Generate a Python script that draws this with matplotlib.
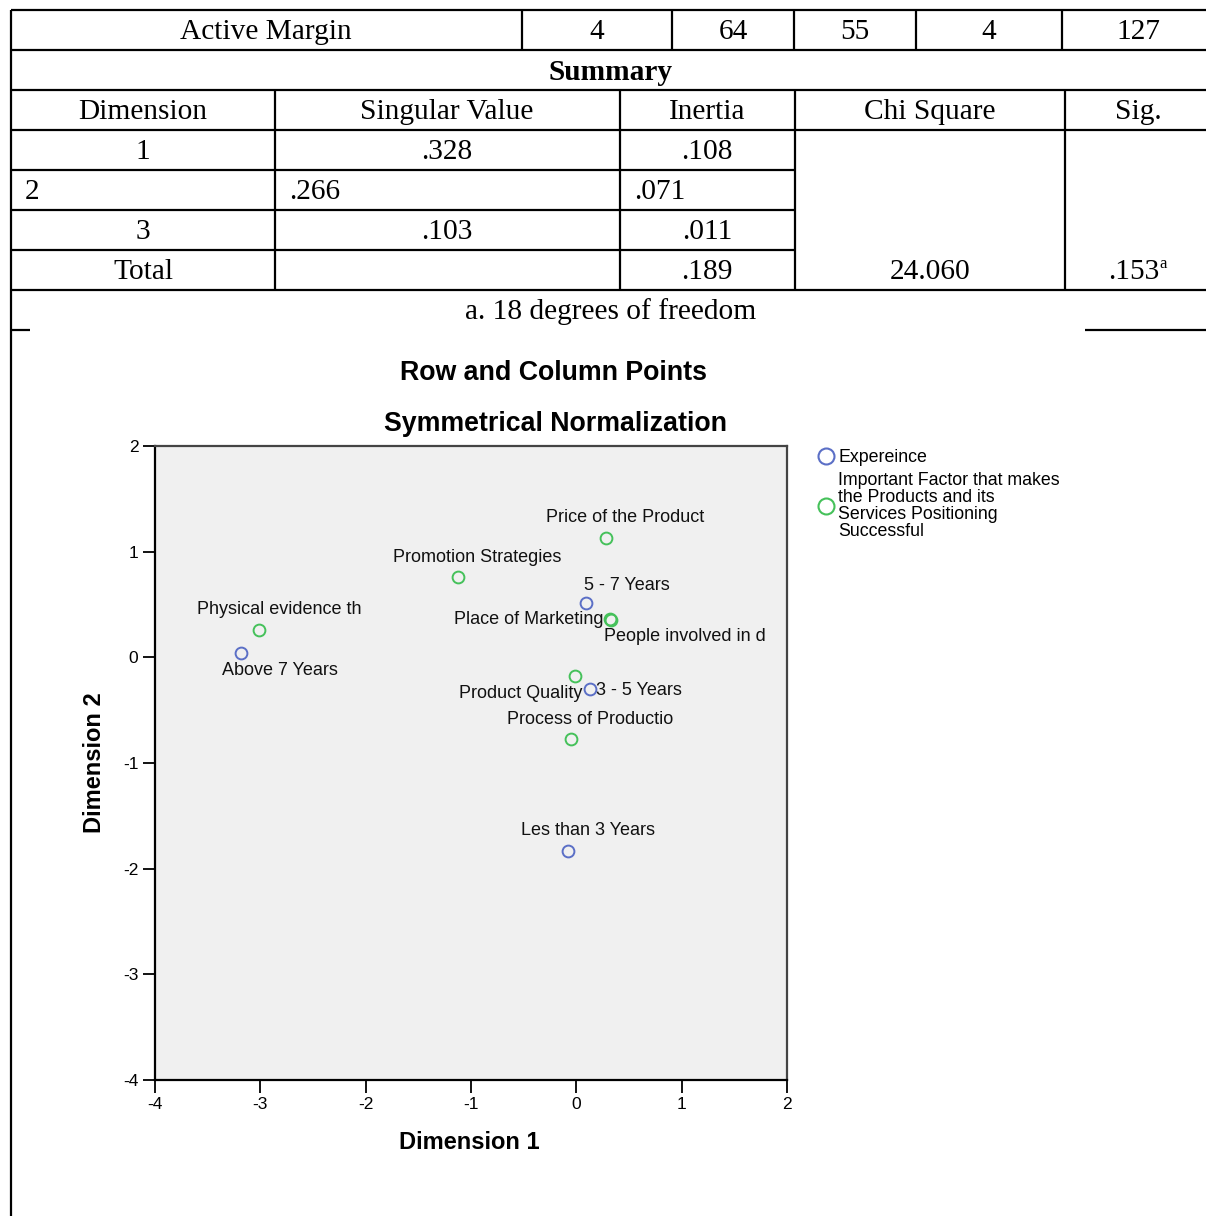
import matplotlib.pyplot as plt
from matplotlib.lines import Line2D

plt.rcParams["axes.unicode_minus"] = False

# correspondence analysis points (Dimension 1, Dimension 2)
labels = ["Price of the Product", "Promotion Strategies", "5 - 7 Years",
          "Place of Marketing", "People involved in d", "Physical evidence th",
          "Above 7 Years", "Product Quality", "3 - 5 Years",
          "Process of Productio", "Les than 3 Years"]
dim1 = [0.28, -1.12, 0.09, 0.32, 0.33, -3.01, -3.18, -0.01, 0.13, -0.05, -0.08]
dim2 = [1.13, 0.76, 0.51, 0.36, 0.35, 0.26, 0.04, -0.18, -0.30, -0.77, -1.83]
group = ["factor", "factor", "exp", "factor", "factor", "factor",
         "exp", "factor", "exp", "factor", "exp"]

# summary table
active_margin = ["Active Margin", "4", "64", "55", "4", "127"]
summary_head = ["Dimension", "Singular Value", "Inertia", "Chi Square", "Sig."]
singular = [".328", ".266", ".103"]
inertia = [".108", ".071", ".011"]
total_inertia = ".189"
chi_square = "24.060"
sig = ".153"

W, H = 1206, 1216
colors = {"exp": "#5b6fc6", "factor": "#45c15a"}

# label placement: (dx px, dy px, ha)
offsets = {
    "Price of the Product": (19, 20, "center"),
    "Promotion Strategies": (19, 20, "center"),
    "5 - 7 Years": (41, 18, "center"),
    "Place of Marketing": (-7, 0, "right"),
    "People involved in d": (-7, -16, "left"),
    "Physical evidence th": (20, 20, "center"),
    "Above 7 Years": (39, -17, "center"),
    "Product Quality": (7, -17, "right"),
    "3 - 5 Years": (6, -1, "left"),
    "Process of Productio": (19, 19, "center"),
    "Les than 3 Years": (20, 20, "center"),
}

fig = plt.figure(figsize=(W / 100, H / 100), dpi=100)
bg = fig.add_axes([0, 0, 1, 1])
bg.set_xlim(0, W)
bg.set_ylim(H, 0)
bg.axis("off")

# ---- table ----
lw = 1.6
def hline(y, x0, x1):
    bg.plot([x0, x1], [y, y], color="black", lw=lw, solid_capstyle="butt")
def vline(x, y0, y1):
    bg.plot([x, x], [y0, y1], color="black", lw=lw, solid_capstyle="butt")

for y in [10, 50, 90, 130, 290]:
    hline(y, 11, W)
for y in [170, 210, 250]:
    hline(y, 11, 795)
hline(330, 11, 30)
hline(330, 1085, W)
vline(11, 10, H)
for x in [522, 672, 794, 916, 1062]:
    vline(x, 10, 50)
for x in [275, 620, 795, 1065]:
    vline(x, 90, 290)

serif = "Liberation Serif"
fs = 21.2
tkw = dict(family=serif, fontsize=fs, va="center", ha="center")
for txt, cx in zip(active_margin, [266, 597, 733, 855, 989, 1138]):
    bg.text(cx, 32, txt, **tkw)
bg.text(611, 72, "Summary", fontweight="bold", **tkw)
for txt, cx in zip(summary_head, [143, 447, 707, 930, 1138]):
    bg.text(cx, 112, txt, **tkw)
rows_y = [152, 192, 232]
for i, (sv, ine) in enumerate(zip(singular, inertia)):
    if i == 1:
        lk = dict(tkw, ha="left")
        bg.text(25, rows_y[i], str(i + 1), **lk)
        bg.text(289, rows_y[i], sv, **lk)
        bg.text(634, rows_y[i], ine, **lk)
    else:
        bg.text(143, rows_y[i], str(i + 1), **tkw)
        bg.text(447, rows_y[i], sv, **tkw)
        bg.text(707, rows_y[i], ine, **tkw)
bg.text(143, 272, "Total", **tkw)
bg.text(707, 272, total_inertia, **tkw)
bg.text(930, 272, chi_square, **tkw)
bg.text(1159, 272, sig, family=serif, fontsize=fs, va="center", ha="right")
bg.text(1159, 264, "a", family=serif, fontsize=12, va="center", ha="left")
bg.text(611, 312, "a. 18 degrees of freedom", **tkw)

# ---- chart titles ----
sans = "Liberation Sans"
bg.text(554, 373, "Row and Column Points", family=sans, fontsize=19.3,
        fontweight="bold", ha="center", va="center")
bg.text(555, 424, "Symmetrical Normalization", family=sans, fontsize=19.3,
        fontweight="bold", ha="center", va="center")

# ---- scatter ----
ax = fig.add_axes([155 / W, (H - 1080) / H, 632 / W, 634 / H])
ax.set_facecolor("#f0f0f0")
for lab, x, y, g in zip(labels, dim1, dim2, group):
    ax.plot(x, y, "o", ms=8.5, mfc="none", mec=colors[g], mew=1.4)
    dx, dy, ha = offsets[lab]
    ax.annotate(lab, (x, y), xytext=(dx, dy), textcoords="offset pixels",
                ha=ha, va="center", family=sans, fontsize=13, color="#111111")

ax.set_xlim(-4, 2)
ax.set_ylim(-4, 2)
ax.set_xticks(range(-4, 3))
ax.set_yticks(range(-4, 3))
ax.tick_params(direction="out", length=9, width=1.3, labelsize=12.5, pad=3)
for lab in ax.get_xticklabels() + ax.get_yticklabels():
    lab.set_family(sans)
for s in ["left", "bottom"]:
    ax.spines[s].set_color("black")
    ax.spines[s].set_linewidth(1.6)
for s in ["top", "right"]:
    ax.spines[s].set_color("#444444")
    ax.spines[s].set_linewidth(1.6)

ax.set_xlabel("Dimension 1", family=sans, fontsize=17, fontweight="bold")
ax.set_ylabel("Dimension 2", family=sans, fontsize=17, fontweight="bold")
ax.xaxis.set_label_coords(0.498, -0.080)
ax.yaxis.set_label_coords(-0.078, 0.5)

handles = [Line2D([], [], ls="none", marker="o", ms=11.5, mfc="none",
                  mec=colors["exp"], mew=1.5),
           Line2D([], [], ls="none", marker="o", ms=11.5, mfc="none",
                  mec=colors["factor"], mew=1.5)]
leg = fig.legend(handles, ["Expereince",
                           "Important Factor that makes\nthe Products and its\n"
                           "Services Positioning\nSuccessful"],
                 loc="upper left", bbox_to_anchor=(810 / W, 1 - 440 / H),
                 frameon=False, handlelength=0.8, handletextpad=0.3,
                 labelspacing=0.35, borderpad=0,
                 prop={"family": sans, "size": 12.8})
for t in leg.get_texts():
    t.set_linespacing(1.0)

fig.savefig("out.png", dpi=100, facecolor="white")
